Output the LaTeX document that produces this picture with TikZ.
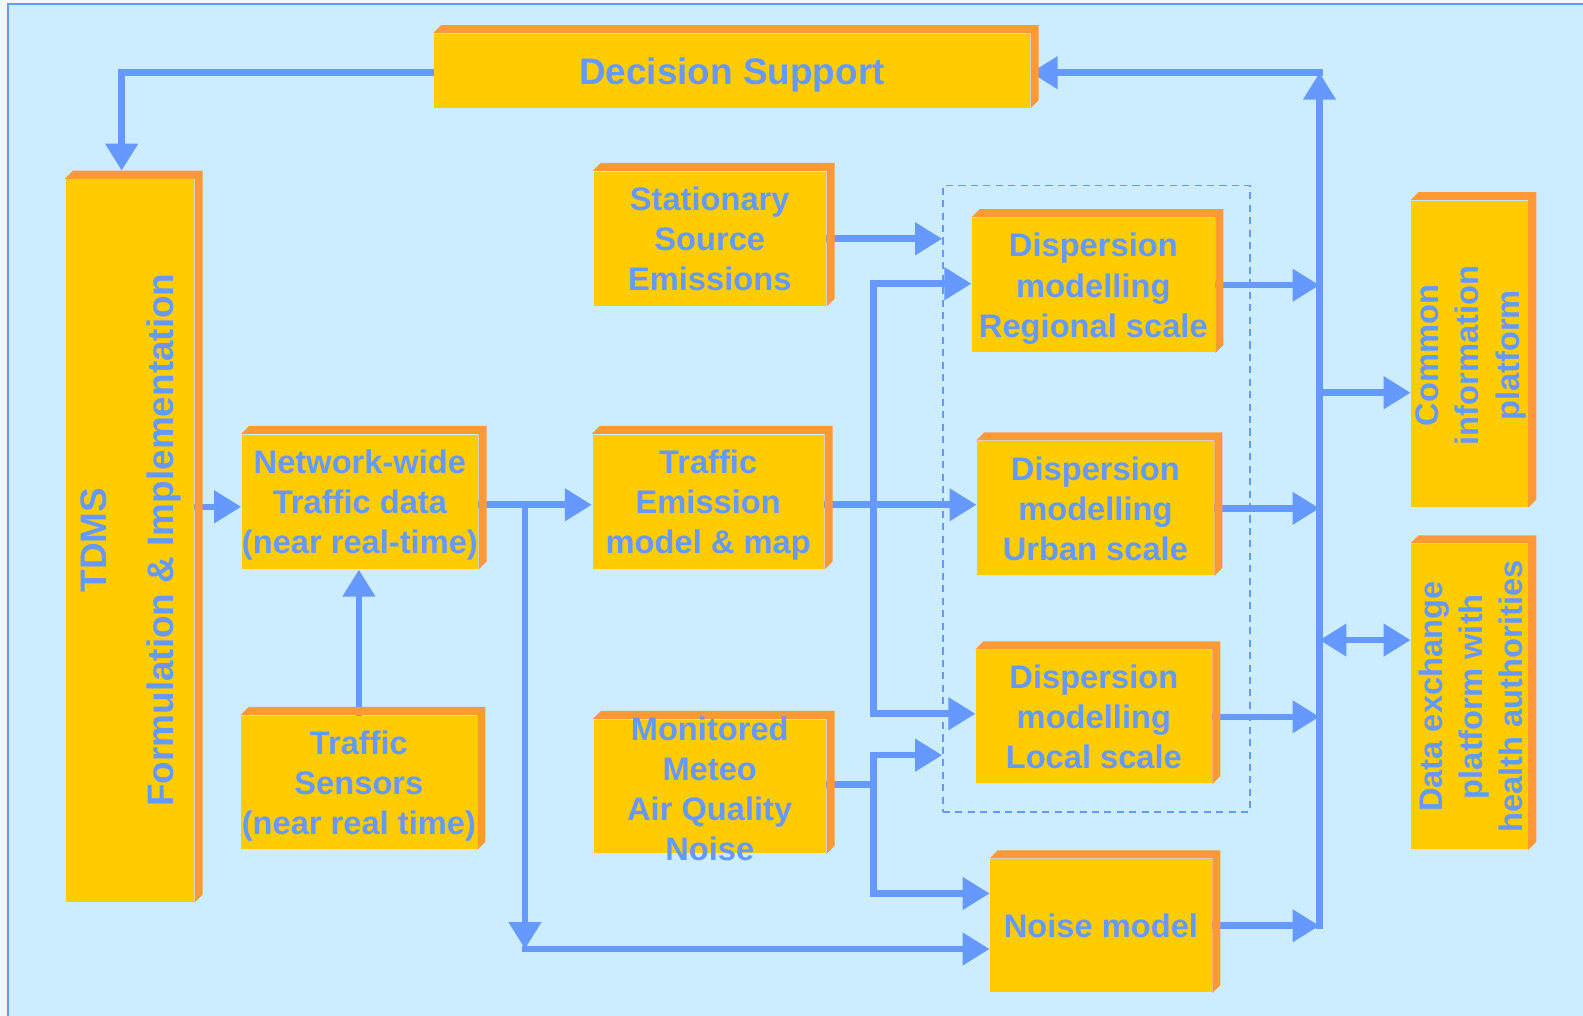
\documentclass[tikz,border=0pt]{standalone}
\usepackage{fontspec}
\setmainfont{Liberation Sans}
\usetikzlibrary{arrows.meta}
\definecolor{paper}{HTML}{F2F8F8}
\definecolor{skyfill}{HTML}{CCECFF}
\definecolor{flowblue}{HTML}{6699FF}
\definecolor{boxgold}{HTML}{FFCC00}
\definecolor{boxedge}{HTML}{FF9933}
\pgfdeclarelayer{canvas}
\pgfdeclarelayer{wires}
\pgfsetlayers{canvas,wires,main}
\tikzset{
  slab/.style={fill=boxgold, inner sep=0pt, align=center, text=flowblue, text depth=0pt,
    font=\bfseries\fontsize{9.2}{11.3}\selectfont},
  vtext/.style={rotate=90, inner sep=0pt, align=center, text=flowblue,
    font=\bfseries\fontsize{9.2}{11.3}\selectfont},
  wire/.style={draw=flowblue, line width=1.85pt, line cap=rect},
  flow/.style={wire, -{Triangle[length=7.6pt,width=8.8pt]}},
  twoway/.style={wire, {Triangle[length=7.6pt,width=8.8pt]}-{Triangle[length=7.6pt,width=8.8pt]}}
}

\begin{document}
\begin{tikzpicture}[x=0.01cm, y=-0.01cm]
\useasboundingbox (0,0) rectangle (1568,1006);
%%%%% Background %%%%%
\begin{pgfonlayer}{canvas}
\fill[paper] (0,0) rectangle (1568,1006);
\fill[skyfill] (8,4) rectangle (1580,1012);
\draw[flowblue, line width=0.6pt] (8,1012) -- (8,4) -- (1580,4);
\end{pgfonlayer}

%%%%% Boxes %%%%%
\node[slab, minimum width=5.90cm, minimum height=0.73cm,
  font=\bfseries\fontsize{10.4}{12}\selectfont] (ds) at (725,70) {Decision Support};
\node[slab, minimum width=1.27cm, minimum height=7.15cm] (tdms) at (128.5,535.5) {};
\node[slab, minimum width=2.30cm, minimum height=1.33cm] (ssrc) at (703,236.5) {Stationary\\Source\\Emissions};
\node[slab, minimum width=2.31cm, minimum height=1.33cm] (net) at (356.5,497) {Network-wide\\Traffic data\\(near real-time)};
\node[slab, minimum width=2.33cm, minimum height=1.32cm] (sens) at (355.5,775) {Traffic\\Sensors\\(near real time)};
\node[slab, minimum width=2.29cm, minimum height=1.33cm] (emis) at (701.5,497) {Traffic\\Emission\\model \& map};
\node[slab, minimum width=2.30cm, minimum height=1.32cm] (mon) at (703,779) {};
\node[slab, minimum width=2.40cm, minimum height=1.33cm] (dreg) at (1083,282.5) {Dispersion\\modelling\\Regional scale};
\node[slab, minimum width=2.34cm, minimum height=1.33cm] (durb) at (1085,503.5) {Dispersion\\modelling\\Urban scale};
\node[slab, minimum width=2.33cm, minimum height=1.32cm] (dloc) at (1083.5,710) {Dispersion\\modelling\\Local scale};
\node[slab, minimum width=2.19cm, minimum height=1.32cm] (noise) at (1090.5,917) {Noise model};
\node[slab, minimum width=1.15cm, minimum height=3.03cm] (cip) at (1455.5,350.5) {};
\node[slab, minimum width=1.15cm, minimum height=3.02cm] (dex) at (1455.5,690) {};
\node[draw=flowblue, line width=0.4pt, dash pattern=on 2pt off 1.5pt,
  minimum width=3.04cm, minimum height=6.20cm] (frame) at (1086,494) {};

% bevels
\foreach \b in {ds,tdms,ssrc,net,sens,emis,mon,dreg,durb,dloc,noise,cip,dex}{
  \fill[boxedge] (\b.north west) -- ([shift={(8,-8)}]\b.north west) -- ([shift={(8,-8)}]\b.north east)
    -- ([shift={(8,-8)}]\b.south east) -- (\b.south east) -- (\b.north east) -- cycle;
}

% texts that do not fit the box
\node[vtext, font=\bfseries\fontsize{10.4}{18.8}\selectfont] (tdmsText) at (130,535) {TDMS\\Formulation \& Implementation};
\node[slab, fill=none] (monText) at (703,781) {Monitored\\Meteo\\Air Quality\\Noise};
\node[vtext] (cipText) at (1457,352) {Common\\information\\platform};
\node[vtext] (dexText) at (1457,690) {Data exchange\\platform with\\health authorities};

%%%%% Arrows %%%%%
\begin{pgfonlayer}{wires}
\draw[flow] ([shift={(0,2)}]ds.west) -| ([shift={(-8,-8)}]tdms.north);
% right-hand bus
\coordinate (busTop) at (1307,72);
\coordinate (busBot) at (noise.east -| busTop);
\draw[flow] (busBot) -- (busTop);
\draw[flow] (busTop) -- (ds.east |- busTop);
\draw[flow] (dreg.east) -- (dreg.east -| busTop);
\draw[flow] (durb.east) -- (durb.east -| busTop);
\draw[flow] (dloc.east) -- (dloc.east -| busTop);
\draw[flow] (noise.east) -- (busBot);
\coordinate (cipTap) at (1307,389);
\draw[flow] (cipTap) -- (cipTap -| cip.west);
\coordinate (dexTap) at (1307,634);
\draw[twoway] (dexTap) -- (dexTap -| dex.west);
% traffic chain
\coordinate (netIn) at ([shift={(0,5)}]net.west);
\draw[flow] (tdms.east |- netIn) -- (netIn);
\draw[flow] (sens.north) -- (sens.north |- net.south);
\coordinate (split) at (520,500);
\coordinate (splitLow) at (520,940);
\draw[flow] (net.east |- split) -- (emis.west |- split);
\draw[flow] (split) -- (splitLow);
\draw[flow] (splitLow) -- (splitLow -| noise.west);
% emissions to dispersion
\coordinate (fanTop) at (865,281);
\coordinate (fanMid) at (865,500);
\coordinate (fanBot) at (865,707);
\draw[wire] (fanTop) -- (fanBot);
\draw[flow] (emis.east |- fanMid) -- (durb.west |- fanMid);
\draw[flow] (fanTop) -- (fanTop -| dreg.west);
\draw[flow] (fanBot) -- (fanBot -| dloc.west);
\draw[flow] (ssrc.east) -- (ssrc.east -| frame.west);
% monitored data
\coordinate (monTap) at (865,777);
\coordinate (monUp) at (865,748);
\coordinate (monDown) at (865,885);
\draw[wire] (mon.east |- monTap) -- (monTap);
\draw[wire] (monUp) -- (monDown);
\draw[flow] (monUp) -- (monUp -| frame.west);
\draw[flow] (monDown) -- (monDown -| noise.west);
\end{pgfonlayer}
\end{tikzpicture}
\end{document}
